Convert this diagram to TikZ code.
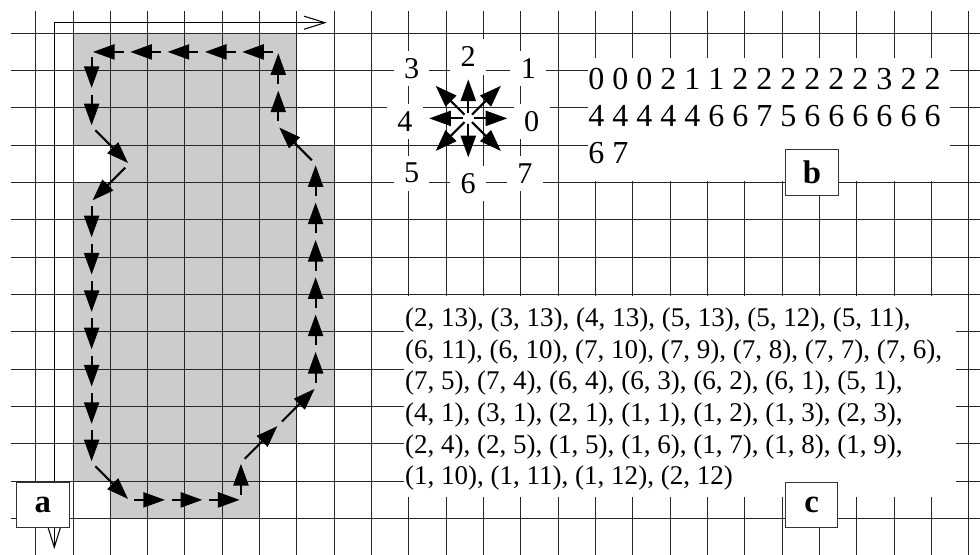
\documentclass[tikz,border=0pt]{standalone}
\usepackage{fontspec}
\setmainfont{Liberation Serif}
\usetikzlibrary{arrows.meta, math}

\tikzset{
  gridline/.style={black!85, line width=0.7pt},
  chainarrow/.style={line width=1.6pt, -{Triangle[length=16.5pt,width=11.5pt]}, shorten <=4pt, shorten >=1pt},
  axisline/.style={line width=0.8pt, -{Straight Barb[length=16pt,width=10pt]}},
  dirlab/.style={fill=white, minimum width=0.96cm, minimum height=0.95cm, inner sep=0pt, font=\fontsize{23pt}{23pt}\selectfont},
  codeline/.style={anchor=base west, inner sep=0pt, font=\fontsize{24.4pt}{29pt}\selectfont},
  pairline/.style={anchor=base west, inner sep=0pt, font=\fontsize{20.6pt}{24pt}\selectfont},
  tagbox/.style={draw=black!80, line width=0.7pt, fill=white, minimum width=1.4cm, minimum height=1.215cm, inner sep=0pt, font=\fontsize{25pt}{25pt}\selectfont\bfseries}
}

\begin{document}
\begin{tikzpicture}[y=-1cm]
\tikzmath{
\xmax=24.798;
\ymax=14.476;
}
\path[use as bounding box, fill=white] (-1.4546,-0.3911) rectangle (\xmax,\ymax);

% object cells
\fill[black!20] (0.5,0.5) -| (6.5,3.5) -| (7.5,10.5) -| (6.5,11.5) -| (5.5,13.5) -| (1.5,12.5) -| (0.5,4.5) -| (1.5,3.5) -| (0.5,0.5) -- cycle;

% grid
\foreach \i in {0,...,25} \draw[gridline] (\i-0.5,-0.096) -- (\i-0.5,\ymax);
\foreach \j in {1,...,14} \draw[gridline] (-1.16,\j-0.5) -- (\xmax,\j-0.5);

% axes
\coordinate (orig) at (0,0.217);
\coordinate (xend) at (7.297,0.217);
\coordinate (yend) at (0,14.316);
\draw[axisline] (orig) -- (xend);
\draw[axisline] (orig) -- (yend);

% panels b and c
\fill[white] (14.297,1.163) rectangle (23.994,4.47);
\fill[white] (9.374,7.538) rectangle (24.154,12.914);

\node[codeline] (code1) at (14.3,2) {0 0 0 2 1 1 2 2 2 2 2 2 3 2 2};
\node[codeline] (code2) at (14.3,3) {4 4 4 4 4 6 6 7 5 6 6 6 6 6 6};
\node[codeline] (code3) at (14.3,4) {6 7};

\node[pairline] (pts1) at (9.39,8.355) {(2, 13), (3, 13), (4, 13), (5, 13), (5, 12), (5, 11),};
\node[pairline] (pts2) at (9.39,9.204) {(6, 11), (6, 10), (7, 10), (7, 9), (7, 8), (7, 7), (7, 6),};
\node[pairline] (pts3) at (9.39,10.053) {(7, 5), (7, 4), (6, 4), (6, 3), (6, 2), (6, 1), (5, 1),};
\node[pairline] (pts4) at (9.39,10.902) {(4, 1), (3, 1), (2, 1), (1, 1), (1, 2), (1, 3), (2, 3),};
\node[pairline] (pts5) at (9.39,11.751) {(2, 4), (2, 5), (1, 5), (1, 6), (1, 7), (1, 8), (1, 9),};
\node[pairline] (pts6) at (9.39,12.6) {(1, 10), (1, 11), (1, 12), (2, 12)};

\node[tagbox] (taga) at (-0.307,13.14) {a};
\node[tagbox] (tagb) at (20.297,4.23) {b};
\node[tagbox] (tagc) at (20.288,13.137) {c};

% direction labels
\node[dirlab] (l0) at (12.79,2.87) {0};
\node[dirlab] (l1) at (12.70,1.44) {1};
\node[dirlab] (l2) at (11.09,1.13) {2};
\node[dirlab] (l3) at (9.57,1.44) {3};
\node[dirlab] (l4) at (9.39,2.87) {4};
\node[dirlab] (l5) at (9.57,4.25) {5};
\node[dirlab] (l6) at (11.09,4.52) {6};
\node[dirlab] (l7) at (12.61,4.25) {7};

% direction star
\coordinate (o) at (11.09,2.78);
\foreach \k/\len in {0/1.08,1/1.27,2/1.08,3/1.27,4/1.08,5/1.27,6/1.08,7/1.27}{
  \path (o) ++(-45*\k:\len) coordinate (d\k);
  \draw[chainarrow] (o) -- (d\k);
}

% boundary chain
\foreach \x/\y [count=\i] in {2/13,3/13,4/13,5/13,5/12,6/11,7/10,7/9,7/8,7/7,7/6,7/5,7/4,6/3,6/2,6/1,5/1,4/1,3/1,2/1,1/1,1/2,1/3,2/4,1/5,1/6,1/7,1/8,1/9,1/10,1/11,1/12,2/13}
  \coordinate (p\i) at (\x,\y);
\foreach \i [evaluate=\i as \j using int(\i+1)] in {1,...,32}
  \draw[chainarrow] (p\i) -- (p\j);

\end{tikzpicture}
\end{document}
